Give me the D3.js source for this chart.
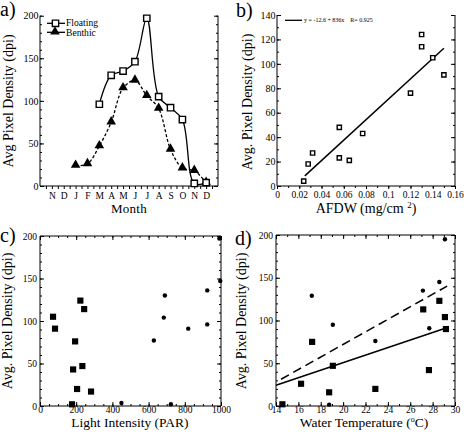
<!DOCTYPE html>
<html><head><meta charset="utf-8">
<script src="https://cdn.jsdelivr.net/npm/d3@7"></script>
<style>
body{margin:0;background:#fff;}
svg{display:block;font-family:"Liberation Serif","Times New Roman",serif;}
</style></head>
<body>
<script>
// ---------- DATA ----------
const monthLabels = ["N","D","J","F","M","A","M","J","J","A","S","O","N","D"];
const floatingMonthIdx = [5,6,7,8,9,10,11,12,13,14];
const floatingValues   = [96,130,135,146,197,105,92,78,3,4];
const benthicMonthIdx  = [3,4,5,6,7,8,9,10,11,12,13,14];
const benthicValues    = [24,26,47,75,115,124,106,91,43,21,18,4];

const afdw     = [0.024,0.028,0.032,0.056,0.056,0.065,0.077,0.120,0.130,0.130,0.140,0.150];
const afdwDens = [4,18,27,48,23,21,43,76,124,114,105,91];
const afdwFit  = {intercept:-12.6, slope:836, from:0.025, to:0.15};
const afdwLegend = "y = -12.6 + 836x    R= 0.925";

const parBenthic      = [72,83,223,244,194,183,234,205,282,177];
const parBenthicVals  = [105,91,124,114,76,43,47,20,17,2];
const parFloating     = [991,996,924,690,684,924,819,629,450,723];
const parFloatingVals = [197,147,136,130,104,96,91,77,3.5,2];

const tempBenthic      = [14.57,16.24,17.23,18.75,19.08,22.88,27.16,27.67,28.6,29.1,29.19];
const tempBenthicVals  = [2,26,75,16,47,20,113,42,123,104,90];
const tempFloating     = [17.2,19.08,18.75,22.88,27.13,27.7,28.6,29.1];
const tempFloatingVals = [129,95,1.6,76,135,91,145,195];
const tempFitSolid  = {intercept:-37.5, slope:4.41, from:14, to:29.2};
const tempFitDashed = {intercept:-74.8, slope:7.34, from:14.45, to:29.3};

const yTicksDensity = [0,50,100,150,200];
const yTicksAfdw = [0,20,40,60,80,100,120,140];
const xTicksAfdw = [0,0.02,0.04,0.06,0.08,0.1,0.12,0.14,0.16];
const xTicksPar = [0,200,400,600,800,1000];
const xTicksTemp = [14,16,18,20,22,24,26,28,30];

// ---------- SVG ----------
const W=464,H=435;
const svg=d3.select("body").append("svg").attr("width",W).attr("height",H);

function majorMinor(g, axisFn, scale, major, minor, fmt, majLen, minLen, pad, fs){
  const gMin=g.append("g");
  gMin.call(axisFn(scale).tickValues(minor).tickFormat("").tickSizeInner(minLen).tickSizeOuter(0));
  gMin.select(".domain").remove();
  const gMaj=g.append("g");
  gMaj.call(axisFn(scale).tickValues(major).tickFormat(fmt).tickSizeInner(majLen).tickSizeOuter(0).tickPadding(pad));
  gMaj.select(".domain").remove();
  g.selectAll("text").attr("font-family","Liberation Serif").attr("font-size",fs).attr("fill","#000");
  g.selectAll("line").attr("stroke","#000");
  return gMaj;
}
function rangeStep(a,b,s){const r=[];for(let v=a;v<=b+1e-9;v+=s)r.push(+v.toFixed(6));return r;}

function frame(g,x,y,top){
  const [x0,x1]=x.range(),[y0,y1]=y.range();
  const p=[[x0,y1,x0,y0],[x0,y0,x1,y0],[x1,y0,x1,y1]];
  if(top)p.push([x0,y1,x1,y1]);
  p.forEach(l=>g.append("line").attr("x1",l[0]).attr("y1",l[1]).attr("x2",l[2]).attr("y2",l[3]).attr("stroke","#000").attr("stroke-width",1));
}
function panelLabel(t,x,y){svg.append("text").attr("x",x).attr("y",y).attr("font-size",20).text(t);}
function yTitle(t,x,cy){svg.append("text").attr("transform",`translate(${x},${cy}) rotate(-90)`).attr("text-anchor","middle").attr("font-size",14).text(t);}

const sq=d3.symbol().type(d3.symbolSquare);
const tri=d3.symbol().type(d3.symbolTriangle);

// ---------- PANEL A ----------
{
  const x=d3.scaleLinear().domain([0,15]).range([40,218]);
  const y=d3.scaleLinear().domain([0,200]).range([186,15.7]);
  const g=svg.append("g");
  const yMinor=rangeStep(0,200,10);
  majorMinor(g.append("g").attr("transform","translate(40,0)"),d3.axisLeft,y,yTicksDensity,yMinor,d3.format("d"),-4,-2,1.5,10);
  majorMinor(g.append("g").attr("transform","translate(218,0)"),d3.axisRight,y,yTicksDensity,yMinor,"",-4,-2,2,10);
  majorMinor(g.append("g").attr("transform","translate(0,186)"),d3.axisBottom,x,d3.range(1,15),rangeStep(0.5,14.5,1),i=>monthLabels[i-1],3,3,3.5,9.5);
  frame(g,x,y,false);

  const line=d3.line().x(d=>x(d[0])).y(d=>y(d[1])).curve(d3.curveCatmullRom.alpha(0.5));
  const fl=floatingMonthIdx.map((m,i)=>[m,floatingValues[i]]);
  const be=benthicMonthIdx.map((m,i)=>[m,benthicValues[i]]);
  g.append("path").attr("d",line(be)).attr("fill","none").attr("stroke","#000").attr("stroke-width",1.3).attr("stroke-dasharray","3,2");
  g.append("path").attr("d",line(fl)).attr("fill","none").attr("stroke","#000").attr("stroke-width",1.3);
  g.selectAll(".tri").data(be).enter().append("path").attr("transform",d=>`translate(${x(d[0])},${y(d[1])-0.5})`).attr("d",tri.size(40)()).attr("fill","#000");
  g.selectAll(".sq").data(fl).enter().append("path").attr("transform",d=>`translate(${x(d[0])},${y(d[1])})`).attr("d",sq.size(40)()).attr("fill","#fff").attr("stroke","#000").attr("stroke-width",1.4);

  // legend
  g.append("line").attr("x1",47).attr("x2",65).attr("y1",23.3).attr("y2",23.3).attr("stroke","#000").attr("stroke-width",1.3);
  g.append("path").attr("transform","translate(55.5,23.3)").attr("d",sq.size(40)()).attr("fill","#fff").attr("stroke","#000").attr("stroke-width",1.4);
  g.append("text").attr("x",66).attr("y",26.4).attr("font-size",9.6).text("Floating");
  g.append("line").attr("x1",47).attr("x2",65).attr("y1",32.3).attr("y2",32.3).attr("stroke","#000").attr("stroke-width",1.3);
  g.append("path").attr("transform","translate(55,31.8)").attr("d",tri.size(40)()).attr("fill","#000");
  g.append("text").attr("x",66).attr("y",36).attr("font-size",9.6).text("Benthic");

  svg.append("text").attr("x",129).attr("y",213).attr("text-anchor","middle").attr("font-size",13).attr("letter-spacing",0.3).text("Month");
  yTitle("Avg Pixel Density (dpi)",13,101);
  panelLabel("a)",0,16);
}

// ---------- PANEL B ----------
{
  const x=d3.scaleLinear().domain([0,0.16]).range([277,455]);
  const y=d3.scaleLinear().domain([0,140]).range([186,15]);
  const g=svg.append("g");
  const yMinor=rangeStep(0,140,10);
  majorMinor(g.append("g").attr("transform","translate(277,0)"),d3.axisLeft,y,yTicksAfdw,yMinor,d3.format("d"),-4,-2,1.5,10);
  majorMinor(g.append("g").attr("transform","translate(455,0)"),d3.axisRight,y,yTicksAfdw,yMinor,"",-4,-2,2,10);
  majorMinor(g.append("g").attr("transform","translate(0,186)"),d3.axisBottom,x,xTicksAfdw,rangeStep(0,0.16,0.01),d=>d===0?"0":d3.format(".2~f")(d),3,2,2.5,9.5);
  frame(g,x,y,false);

  const fy=v=>afdwFit.intercept+afdwFit.slope*v;
  g.append("path").attr("d",d3.line()([[x(afdwFit.from),y(fy(afdwFit.from))],[x(afdwFit.to),y(fy(afdwFit.to))]])).attr("stroke","#000").attr("stroke-width",1.5);
  g.selectAll(".p").data(afdw.map((a,i)=>[a,afdwDens[i]])).enter().append("path")
    .attr("transform",d=>`translate(${x(d[0])},${y(d[1])})`).attr("d",sq.size(18)()).attr("fill","#fff").attr("stroke","#000").attr("stroke-width",1.4);

  g.append("line").attr("x1",285).attr("x2",302).attr("y1",20.3).attr("y2",20.3).attr("stroke","#000").attr("stroke-width",1.3);
  g.append("text").attr("x",304).attr("y",22.3).attr("font-size",6).attr("xml:space","preserve").text(afdwLegend);

  const t=svg.append("text").attr("x",366).attr("y",213).attr("text-anchor","middle").attr("font-size",14);
  t.append("tspan").text("AFDW (mg/cm ");
  t.append("tspan").attr("dy",-5).attr("font-size",9).text("2");
  t.append("tspan").attr("dy",5).text(")");
  yTitle("Avg. Pixel Density (dpi)",252,102);
  panelLabel("b)",236,17);
}

// ---------- PANEL C ----------
{
  const x=d3.scaleLinear().domain([0,1000]).range([40,221]);
  const y=d3.scaleLinear().domain([0,200]).range([406,236]);
  const g=svg.append("g");
  const yMinor=rangeStep(0,200,10), xMinor=rangeStep(0,1000,50);
  majorMinor(g.append("g").attr("transform","translate(40,0)"),d3.axisLeft,y,yTicksDensity,yMinor,d3.format("d"),-4,-2,3,9.5);
  majorMinor(g.append("g").attr("transform","translate(221,0)"),d3.axisRight,y,yTicksDensity,yMinor,"",-4,-2,2,10);
  majorMinor(g.append("g").attr("transform","translate(0,406)"),d3.axisBottom,x,xTicksPar,xMinor,d3.format("d"),-4,-2,0.5,9.5);
  majorMinor(g.append("g").attr("transform","translate(0,236)"),d3.axisTop,x,xTicksPar,xMinor,"",-4,-2,2,10);
  frame(g,x,y,true);

  g.selectAll(".s").data(parBenthic.map((a,i)=>[a,parBenthicVals[i]])).enter().append("path")
    .attr("transform",d=>`translate(${x(d[0])},${y(d[1])})`).attr("d",sq.size(38)()).attr("fill","#000");
  g.selectAll(".c").data(parFloating.map((a,i)=>[a,parFloatingVals[i]])).enter().append("circle")
    .attr("cx",d=>x(d[0])).attr("cy",d=>y(d[1])).attr("r",2.2).attr("fill","#000");

  svg.append("text").attr("x",130).attr("y",427).attr("text-anchor","middle").attr("font-size",13.5).text("Light Intensity (PAR)");
  yTitle("Avg. Pixel Density (dpi)",12,321);
  panelLabel("c)",0,242);
}

// ---------- PANEL D ----------
{
  const x=d3.scaleLinear().domain([14,30]).range([276,455]);
  const y=d3.scaleLinear().domain([0,200]).range([406,235]);
  const g=svg.append("g");
  const yMinor=rangeStep(0,200,10), xMinor=rangeStep(14,30,1);
  majorMinor(g.append("g").attr("transform","translate(276,0)"),d3.axisLeft,y,yTicksDensity,yMinor,d3.format("d"),-4,-2,3,9.5);
  majorMinor(g.append("g").attr("transform","translate(455,0)"),d3.axisRight,y,yTicksDensity,yMinor,"",-4,-2,2,10);
  majorMinor(g.append("g").attr("transform","translate(0,406)"),d3.axisBottom,x,xTicksTemp,xMinor,d3.format("d"),-4,-2,0.5,9.5);
  majorMinor(g.append("g").attr("transform","translate(0,235)"),d3.axisTop,x,xTicksTemp,xMinor,"",-4,-2,2,10);
  frame(g,x,y,true);

  const fitPath=f=>d3.line()([[x(f.from),y(f.intercept+f.slope*f.from)],[x(f.to),y(f.intercept+f.slope*f.to)]]);
  g.append("path").attr("d",fitPath(tempFitDashed)).attr("stroke","#000").attr("stroke-width",1.5).attr("stroke-dasharray","9,5");
  g.append("path").attr("d",fitPath(tempFitSolid)).attr("stroke","#000").attr("stroke-width",1.5);

  g.selectAll(".s").data(tempBenthic.map((a,i)=>[a,tempBenthicVals[i]])).enter().append("path")
    .attr("transform",d=>`translate(${x(d[0])},${y(d[1])})`).attr("d",sq.size(38)()).attr("fill","#000");
  g.selectAll(".c").data(tempFloating.map((a,i)=>[a,tempFloatingVals[i]])).enter().append("circle")
    .attr("cx",d=>x(d[0])).attr("cy",d=>y(d[1])).attr("r",2.2).attr("fill","#000");

  const t=svg.append("text").attr("x",364).attr("y",427).attr("text-anchor","middle").attr("font-size",13.5);
  t.append("tspan").text("Water Temperature (");
  t.append("tspan").attr("dy",-5).attr("font-size",8).text("o");
  t.append("tspan").attr("dy",5).text("C)");
  yTitle("Avg. Pixel Density (dpi)",246,321);
  panelLabel("d)",235,245);
}
</script>
</body></html>
